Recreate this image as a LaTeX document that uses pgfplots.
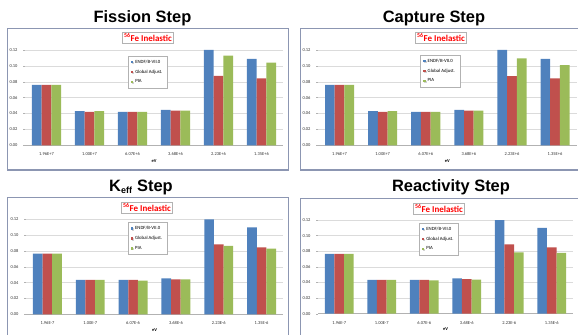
\documentclass[border=0pt]{standalone}
\usepackage{pgfplots}
\pgfplotsset{compat=1.18}
\usepackage{pgfplotstable}
\usepackage{fontspec}
\setmainfont{Carlito}
\newfontfamily\titlefont{Liberation Sans}
\usetikzlibrary{shadows}
\definecolor{xblue}{RGB}{79,129,189}
\definecolor{xred}{RGB}{192,80,77}
\definecolor{xgreen}{RGB}{155,187,89}
\definecolor{framec}{RGB}{140,150,178}

\pgfplotstableread{
x b r g
0 0.076 0.076 0.076
1 0.043 0.042 0.043
2 0.042 0.042 0.042
3 0.0445 0.0438 0.0438
4 0.12 0.0873 0.1128
5 0.1087 0.0843 0.1040
}\fission
\pgfplotstableread{
x b r g
0 0.076 0.076 0.076
1 0.043 0.042 0.043
2 0.042 0.042 0.042
3 0.0445 0.0438 0.0438
4 0.12 0.0872 0.1096
5 0.1087 0.0844 0.1008
}\capture
\pgfplotstableread{
x b r g
0 0.0766 0.0766 0.0766
1 0.0434 0.0434 0.0434
2 0.0434 0.0434 0.0425
3 0.0455 0.0442 0.0442
4 0.12 0.0884 0.0863
5 0.1099 0.0846 0.0830
}\keff
\pgfplotstableread{
x b r g
0 0.0765 0.0765 0.0765
1 0.0432 0.0432 0.0432
2 0.0432 0.0432 0.0427
3 0.0453 0.0444 0.0436
4 0.12 0.0889 0.0786
5 0.1098 0.0850 0.0778
}\react

\pgfplotsset{
  panel/.style={
    scale only axis, anchor=south west,
    xmin=-0.5, xmax=5.5, ymin=0, ymax=0.12,
    xtick={0,1,2,3,4,5},
    ytick={0,0.02,0.04,0.06,0.08,0.10,0.12},
    /pgf/number format/.cd, fixed, fixed zerofill, precision=2, assume math mode=true,
    /pgfplots/.cd,
    ymajorgrids, grid style={draw=gray!28, line width=0.5bp},
    axis x line=bottom, axis y line=left,
    y axis line style={draw=none},
    x axis line style={draw=gray!60, line width=0.5bp, -},
    xtick style={draw=none},
    ytick style={draw=gray!60, line width=0.4bp},
    major tick length=2bp, tick align=outside,
    tick label style={font=\fontsize{4.5}{5}\selectfont, text=black!80},
    yticklabel style={xshift=-2bp},
    xticklabel style={yshift=-2bp},
    xlabel={eV},
    x label style={at={(axis description cs:0.5,0)}, anchor=center, yshift=-15.5bp,
      font=\bfseries\fontsize{4.5}{5}\selectfont},
    ybar, bar width=0.225,
    legend cell align=left,
    legend image code/.code={\draw[#1, draw=none] (0bp,-1.2bp) rectangle (2.4bp,1.2bp);},
    legend style={font=\fontsize{4.8}{5}\selectfont, draw=gray!60, fill=white,
      inner xsep=3bp, inner ysep=1.8bp, row sep=1.2bp,
      drop shadow={shadow xshift=0.8bp, shadow yshift=-0.8bp, opacity=0.35},
      anchor=north west},
  },
  sb/.style={fill=xblue, draw=none, bar shift=-0.225},
  sr/.style={fill=xred, draw=none, bar shift=0},
  sg/.style={fill=xgreen, draw=none, bar shift=0.225},
}
\tikzset{
  tag/.style={draw=gray!60, fill=white, text=red, inner xsep=1.5bp, inner ysep=1.8bp,
    font=\bfseries\fontsize{9}{9}\selectfont,
    drop shadow={shadow xshift=0.8bp, shadow yshift=-0.8bp, opacity=0.35}},
  ttl/.style={font=\titlefont\bfseries\fontsize{16.5}{17}\selectfont, anchor=base},
}

\begin{document}
\begin{tikzpicture}
\begin{scope}[x=1bp,y=1bp]
\path[use as bounding box] (0,0) rectangle (578,334);
% panel frames
\draw[framec, line width=0.7bp] (7,164) rectangle (288,306);
\draw[framec, line width=2bp] (7,164) -- (288,164);
\draw[framec, line width=0.7bp] (300,164) rectangle (590,306);
\draw[framec, line width=2bp] (300,164) -- (590,164);
\draw[framec, line width=0.7bp] (7,-10) rectangle (288,137);
\draw[framec, line width=0.7bp] (300,-10) rectangle (590,136);
% titles
\node[ttl] at (142.5,311) {Fission Step};
\node[ttl] at (434,311) {Capture Step};
\node[ttl] at (141,143) {K\textsubscript{\fontsize{9}{9}\selectfont eff} Step};
\node[ttl] at (451,143) {Reactivity Step};
\end{scope}

% Fission
\begin{axis}[panel, at={(25bp,188.7bp)}, width=258bp, height=95.3bp,
  xticklabels={1.96E+7,1.00E+7,6.07E+6,3.68E+6,2.23E+6,1.35E+6},
  legend style={at={(rel axis cs:0.398,0.94)}}]
\addplot[sb] table[x=x,y=b]{\fission};
\addplot[sr] table[x=x,y=r]{\fission};
\addplot[sg] table[x=x,y=g]{\fission};
\legend{ENDF/B-VII.0, Global Adjust., PIA}
\end{axis}

% Capture
\begin{axis}[panel, at={(318bp,188.7bp)}, width=258.6bp, height=95.3bp,
  xticklabels={1.96E+7,1.00E+7,6.07E+6,3.68E+6,2.23E+6,1.35E+6},
  legend style={at={(rel axis cs:0.395,0.95)}}]
\addplot[sb] table[x=x,y=b]{\capture};
\addplot[sr] table[x=x,y=r]{\capture};
\addplot[sg] table[x=x,y=g]{\capture};
\legend{ENDF/B-VII.0, Global Adjust., PIA}
\end{axis}

% Keff
\begin{axis}[panel, at={(26bp,19.7bp)}, width=257bp, height=95bp,
  xticklabels={1.96E-7,1.00E-7,6.07E-6,3.68E-6,2.23E-6,1.35E-6},
  legend style={at={(rel axis cs:0.395,0.97)}}]
\addplot[sb] table[x=x,y=b]{\keff};
\addplot[sr] table[x=x,y=r]{\keff};
\addplot[sg] table[x=x,y=g]{\keff};
\legend{ENDF/B-VII.0, Global Adjust., PIA}
\end{axis}

% Reactivity
\begin{axis}[panel, at={(318bp,20.3bp)}, width=255bp, height=93.7bp,
  xticklabels={1.96E-7,1.00E-7,6.07E-6,3.68E-6,2.23E-6,1.35E-6},
  legend style={at={(rel axis cs:0.395,0.97)}}]
\addplot[sb] table[x=x,y=b]{\react};
\addplot[sr] table[x=x,y=r]{\react};
\addplot[sg] table[x=x,y=g]{\react};
\legend{ENDF/B-VII.0, Global Adjust., PIA}
\end{axis}

% series tags
\begin{scope}[x=1bp,y=1bp]
\node[tag] at (148,296.5) {\textsuperscript{56}Fe Inelastic};
\node[tag] at (441,296.5) {\textsuperscript{56}Fe Inelastic};
\node[tag] at (147,126.5) {\textsuperscript{56}Fe Inelastic};
\node[tag] at (439,125.5) {\textsuperscript{56}Fe Inelastic};
\end{scope}
\end{tikzpicture}
\end{document}
